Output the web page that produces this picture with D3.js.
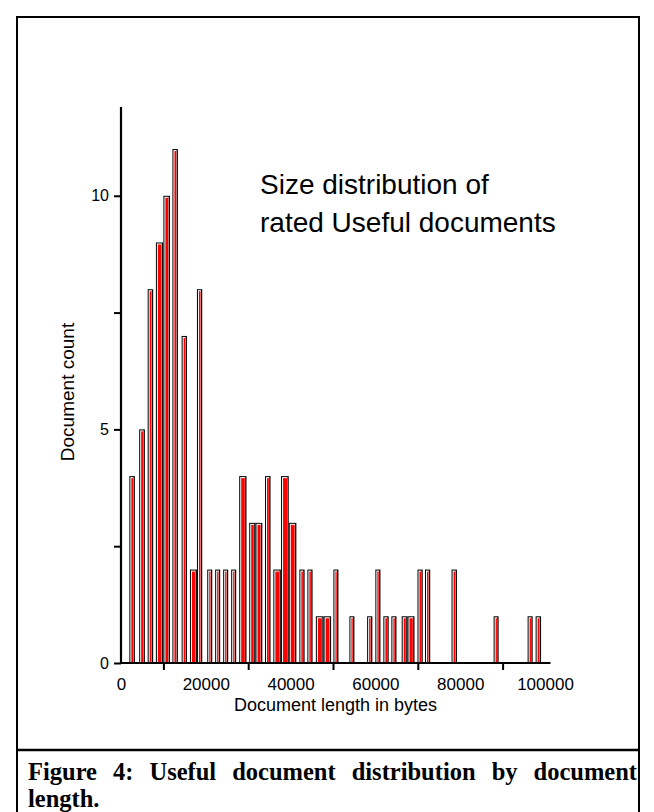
<!DOCTYPE html>
<html>
<head>
<meta charset="utf-8">
<script src="https://cdn.jsdelivr.net/npm/d3@7"></script>
<style>
  html, body { margin: 0; padding: 0; background: #fff; }
  svg { display: block; }
</style>
</head>
<body>
<svg id="fig" width="654" height="812"></svg>
<script>
// Histogram bins: document length range (bytes) and number of documents
const binStart = [1970, 4290, 6290, 8230, 10000, 12130, 14300, 16260, 17910, 20340,
  22210, 24100, 25990, 27880, 30240, 31720, 33970, 35930, 37750, 39560,
  42070, 43960, 45960, 47780, 50100, 53870, 58050, 59990, 61880, 63770,
  66200, 67570, 69930, 71700, 77960, 87880, 95900, 97790];
const binEnd = [3270, 5630, 7590, 9950, 11540, 13420, 15550, 17910, 19160, 21520,
  23390, 25280, 27170, 29600, 31720, 33330, 35270, 37700, 39560, 41360,
  43300, 45180, 47780, 49550, 51280, 55050, 59280, 61190, 63130, 64970,
  67570, 69220, 71160, 72930, 79230, 89060, 97090, 99070];
const counts = [4, 5, 8, 9, 10, 11, 7, 2, 8, 2,
  2, 2, 2, 4, 3, 3, 4, 2, 4, 3,
  2, 2, 1, 1, 2, 1, 1, 2, 1, 1,
  1, 1, 2, 2, 2, 1, 1, 1];

const xTickMarks = [10000, 30000, 50000, 70000, 90000];
const xTickLabels = [0, 20000, 40000, 60000, 80000, 100000];
const yTickMarks = [0, 2.5, 5, 7.5, 10];
const yTickLabels = [0, 5, 10];

const titleLines = ["Size distribution of", "rated Useful documents"];
const captionLines = ["Figure 4: Useful document distribution by document", "length."];

const svg = d3.select("#fig");
const sans = "'Liberation Sans', Arial, sans-serif";
const serif = "'Liberation Serif', 'Times New Roman', serif";

// frame and caption separator
svg.append("rect").attr("x", 17).attr("y", 17).attr("width", 622).attr("height", 820)
  .attr("fill", "none").attr("stroke", "#000").attr("stroke-width", 2);
svg.append("line").attr("x1", 17).attr("x2", 639).attr("y1", 750).attr("y2", 750)
  .attr("stroke", "#000").attr("stroke-width", 2.5);

const x = d3.scaleLinear().domain([0, 100000]).range([121, 545]);
const y = d3.scaleLinear().domain([0, 11.9]).range([663, 107]);

// bars: black frame, white inner edge, red fill
const bins = binStart.map((s, i) => ({ s, e: binEnd[i], c: counts[i] }));
const g = svg.append("g");
bins.forEach(d => {
  const x0 = x(d.s), x1 = x(d.e), top = y(d.c), bot = y(0);
  const w = x1 - x0;
  g.append("rect").attr("x", x0).attr("y", top).attr("width", w).attr("height", bot - top).attr("fill", "#000");
  g.append("rect").attr("x", x0 + 1).attr("y", top + 1).attr("width", w - 2.3).attr("height", bot - top - 1).attr("fill", "#fff");
  g.append("rect").attr("x", x0 + 2).attr("y", top + 2).attr("width", Math.max(0.8, w - 3.7)).attr("height", bot - top - 2).attr("fill", "#ff0000");
});

// x axis: tick marks and labels
const xAxisMarks = d3.axisBottom(x).tickValues(xTickMarks).tickSize(7).tickFormat("");
const gxm = svg.append("g").attr("transform", `translate(0,${y(0)})`).call(xAxisMarks);
gxm.select(".domain").remove();
gxm.selectAll(".tick line").attr("stroke", "#000").attr("stroke-width", 2);
svg.append("line").attr("x1", x(0) - 1).attr("x2", x(101300)).attr("y1", y(0)).attr("y2", y(0))
  .attr("stroke", "#000").attr("stroke-width", 2.2);

const xAxisLabels = d3.axisBottom(x).tickValues(xTickLabels).tickSize(0).tickPadding(15).tickFormat(d3.format("d"));
const gxl = svg.append("g").attr("transform", `translate(0,${y(0)})`).call(xAxisLabels);
gxl.select(".domain").remove();
gxl.selectAll(".tick text").attr("font-family", sans).attr("font-size", 17).attr("fill", "#000");

// y axis
const yAxis = d3.axisLeft(y).tickValues(yTickMarks).tickSize(7).tickPadding(5)
  .tickFormat(d => yTickLabels.includes(d) ? String(d) : "");
const gy = svg.append("g").attr("transform", `translate(${x(0)},0)`).call(yAxis);
gy.select(".domain").remove();
gy.selectAll(".tick line").attr("stroke", "#000").attr("stroke-width", 2);
gy.selectAll(".tick text").attr("font-family", sans).attr("font-size", 16).attr("fill", "#000");
svg.append("line").attr("x1", x(0)).attr("x2", x(0)).attr("y1", y(11.9)).attr("y2", y(0) + 1)
  .attr("stroke", "#000").attr("stroke-width", 2.2);

// axis titles
svg.append("text").attr("x", 335.5).attr("y", 711).attr("text-anchor", "middle")
  .attr("font-family", sans).attr("font-size", 18).text("Document length in bytes");
svg.append("text").attr("transform", "translate(74,392) rotate(-90)").attr("text-anchor", "middle")
  .attr("font-family", sans).attr("font-size", 19).text("Document count");

// in-plot title
svg.append("text").attr("font-family", sans).attr("font-size", 28)
  .selectAll("tspan").data(titleLines).join("tspan")
  .attr("x", 260).attr("y", (d, i) => 194 + i * 38).text(d => d);

// caption, first line justified to the frame width
const cap1 = svg.append("text").attr("x", 28).attr("y", 780)
  .attr("font-family", serif).attr("font-weight", "bold").attr("font-size", 24.5).text(captionLines[0]);
const natural = cap1.node().getComputedTextLength();
const gaps = captionLines[0].split(" ").length - 1;
cap1.attr("word-spacing", Math.max(0, (609 - natural) / gaps));
svg.append("text").attr("x", 28).attr("y", 807)
  .attr("font-family", serif).attr("font-weight", "bold").attr("font-size", 24.5).text(captionLines[1]);
</script>
</body>
</html>
